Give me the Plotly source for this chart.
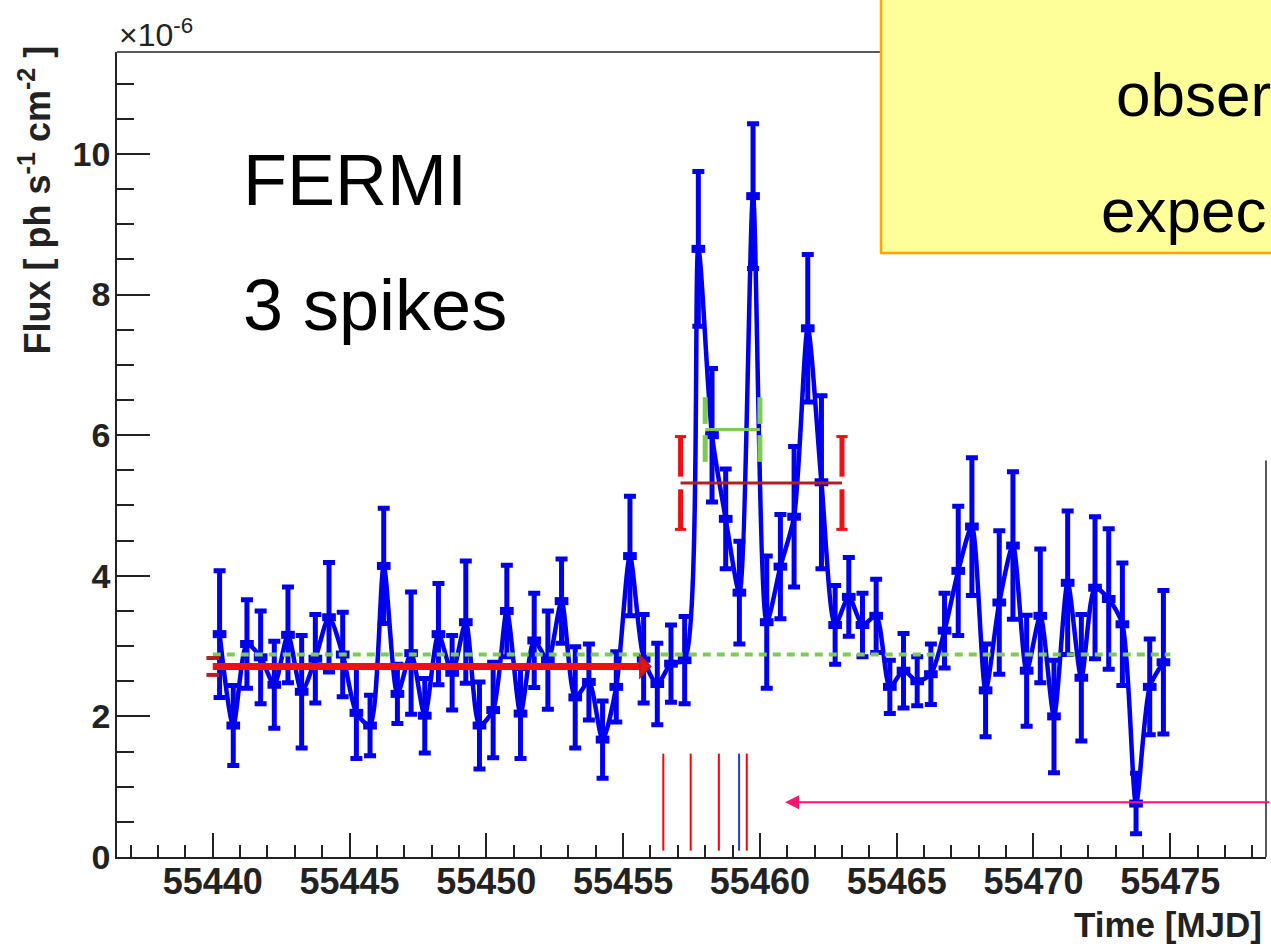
import plotly.graph_objects as go

# ---------------- canvas / layout geometry ----------------
W, H = 1271, 947
ML, MR, MT, MB = 117, 5, 52, 90
PW, PH = W - ML - MR, H - MT - MB

X_RANGE = [55436.5, 55478.5]
Y_RANGE = [0.0, 11.45]

# ---------------- data (flux in units of 1e-6 ph s^-1 cm^-2) ----------------
time_mjd = [55440.25, 55440.75, 55441.25, 55441.75, 55442.25, 55442.75, 55443.25, 55443.75,
            55444.25, 55444.75, 55445.25, 55445.75, 55446.25, 55446.75, 55447.25, 55447.75,
            55448.25, 55448.75, 55449.25, 55449.75, 55450.25, 55450.75, 55451.25, 55451.75,
            55452.25, 55452.75, 55453.25, 55453.75, 55454.25, 55454.75, 55455.25, 55455.75,
            55456.25, 55456.75, 55457.25, 55457.75, 55458.25, 55458.75, 55459.25, 55459.75,
            55460.25, 55460.75, 55461.25, 55461.75, 55462.25, 55462.75, 55463.25, 55463.75,
            55464.25, 55464.75, 55465.25, 55465.75, 55466.25, 55466.75, 55467.25, 55467.75,
            55468.25, 55468.75, 55469.25, 55469.75, 55470.25, 55470.75, 55471.25, 55471.75,
            55472.25, 55472.75, 55473.25, 55473.75, 55474.25, 55474.75]
flux = [3.17, 1.87, 3.03, 2.84, 2.45, 3.16, 2.35, 2.82, 3.41, 2.88,
        2.05, 1.87, 4.14, 2.32, 2.90, 2.01, 3.17, 2.62, 3.34, 1.87,
        2.09, 3.50, 2.04, 3.08, 2.80, 3.64, 2.27, 2.49, 1.67, 2.42,
        4.28, 2.82, 2.46, 2.75, 2.80, 8.65, 6.00, 4.81, 3.76, 9.40,
        3.34, 4.13, 4.84, 7.52, 5.33, 3.30, 3.70, 3.30, 3.43, 2.42,
        2.65, 2.50, 2.60, 3.22, 4.07, 4.70, 2.37, 3.62, 4.43, 2.65,
        3.43, 2.00, 3.90, 2.55, 3.83, 3.67, 3.31, 0.76, 2.42, 2.77]
flux_err = [0.90, 0.57, 0.63, 0.66, 0.62, 0.68, 0.80, 0.63, 0.78, 0.60,
            0.65, 0.43, 0.82, 0.42, 0.87, 0.53, 0.72, 0.53, 0.87, 0.62,
            0.68, 0.65, 0.64, 0.67, 0.70, 0.60, 0.72, 0.54, 0.55, 0.50,
            0.85, 0.63, 0.58, 0.55, 0.62, 1.10, 0.95, 0.71, 0.73, 1.03,
            0.94, 0.74, 1.00, 1.05, 1.23, 0.56, 0.56, 0.45, 0.52, 0.38,
            0.53, 0.35, 0.43, 0.53, 0.92, 0.98, 0.66, 1.02, 1.05, 0.79,
            0.95, 0.80, 1.02, 0.90, 1.01, 1.00, 0.87, 0.43, 0.68, 1.02]
BIN_HALF = 0.25

# pre-flare average (red arrow)
BASE_START, BASE_END, BASE_FLUX, BASE_ERR = 55440.0, 55456.0, 2.71, 0.12
# overall average (green dashed)
AVG_START, AVG_END, AVG_FLUX = 55440.0, 55475.0, 2.88
# flare average (red)
FLARE_START, FLARE_END, FLARE_FLUX, FLARE_ERR, FLARE_GAP = 55457.1, 55463.0, 5.32, 0.66, 0.09
# peak interval (green)
PEAK_START, PEAK_END, PEAK_FLUX, PEAK_ERR, PEAK_GAP = 55458.0, 55460.0, 6.08, 0.46, 0.08
# event markers at the bottom
red_events = [55456.47, 55457.47, 55458.50, 55459.52]
blue_events = [55459.24]
EVENT_LOW, EVENT_HIGH = 0.09, 1.47
ARROW_TIP_X, ARROW_Y = 55460.92, 0.78
FRAME_RIGHT_TOP = 5.64

BLUE = "#0000EE"
GREEN = "#7CCB55"
RED = "#EE1111"
DARKRED = "#B41E1E"
PINK = "#FF1470"
FONT = "Liberation Sans"
AXC = "#222222"


def px_x(px):
    return (px - ML) / PW


def px_y(py):
    return (H - MB - py) / PH


def vbar_with_gap(xs, center, err, gap):
    xx, yy = [], []
    for x in xs:
        xx += [x, x, None, x, x, None]
        yy += [center - err, center - gap, None, center + gap, center + err, None]
    return xx, yy


fig = go.Figure()

# main light curve
fig.add_trace(go.Scatter(
    x=time_mjd, y=flux, mode="lines",
    line=dict(color=BLUE, width=4.5, shape="spline", smoothing=0.7),
    error_x=dict(type="constant", value=BIN_HALF, thickness=8, width=0, color=BLUE),
    error_y=dict(type="data", array=flux_err, thickness=5, width=6, color=BLUE),
    hoverinfo="skip", showlegend=False))

# overall average: green dashed
fig.add_trace(go.Scatter(
    x=[AVG_START, AVG_END], y=[AVG_FLUX, AVG_FLUX], mode="lines",
    line=dict(color=GREEN, width=4, dash="8px,6px"), showlegend=False, hoverinfo="skip"))

# pre-flare average: thick red arrow
fig.add_trace(go.Scatter(
    x=[BASE_START, BASE_END - 0.25], y=[BASE_FLUX, BASE_FLUX], mode="lines",
    line=dict(color=RED, width=7), showlegend=False, hoverinfo="skip"))
fig.add_trace(go.Scatter(
    x=[BASE_START, BASE_START], y=[BASE_FLUX - BASE_ERR, BASE_FLUX + BASE_ERR], mode="markers",
    marker=dict(symbol="line-ew", size=9, line=dict(color=DARKRED, width=4)),
    showlegend=False, hoverinfo="skip"))

# flare average: red line with split end bars
fig.add_trace(go.Scatter(
    x=[FLARE_START, FLARE_END], y=[FLARE_FLUX, FLARE_FLUX], mode="lines",
    line=dict(color=DARKRED, width=3), showlegend=False, hoverinfo="skip"))
fx, fy = vbar_with_gap([FLARE_START, FLARE_END], FLARE_FLUX, FLARE_ERR, FLARE_GAP)
fig.add_trace(go.Scatter(x=fx, y=fy, mode="lines", line=dict(color=RED, width=5),
                         showlegend=False, hoverinfo="skip"))
fig.add_trace(go.Scatter(
    x=[FLARE_START, FLARE_START, FLARE_END, FLARE_END],
    y=[FLARE_FLUX - FLARE_ERR, FLARE_FLUX + FLARE_ERR] * 2, mode="markers",
    marker=dict(symbol="line-ew", size=8, line=dict(color=RED, width=3)),
    showlegend=False, hoverinfo="skip"))

# peak interval: green
fig.add_trace(go.Scatter(
    x=[PEAK_START, PEAK_END], y=[PEAK_FLUX, PEAK_FLUX], mode="lines",
    line=dict(color=GREEN, width=3), showlegend=False, hoverinfo="skip"))
gx, gy = vbar_with_gap([PEAK_START, PEAK_END], PEAK_FLUX, PEAK_ERR, PEAK_GAP)
fig.add_trace(go.Scatter(x=gx, y=gy, mode="lines", line=dict(color=GREEN, width=5),
                         showlegend=False, hoverinfo="skip"))

# event lines
for evs, col in ((red_events, "#FF0000"), (blue_events, "#1E3CDC")):
    ex, ey = [], []
    for e in evs:
        ex += [e, e, None]
        ey += [EVENT_LOW, EVENT_HIGH, None]
    fig.add_trace(go.Scatter(x=ex, y=ey, mode="lines", line=dict(color=col, width=2),
                             showlegend=False, hoverinfo="skip"))

shapes = []
# open arrow head at end of red baseline
ah_len, ah_h = 0.38, 0.15
shapes.append(dict(type="path", xref="x", yref="y",
                   path=f"M {BASE_END - ah_len},{BASE_FLUX - ah_h} L {BASE_END},{BASE_FLUX} "
                        f"L {BASE_END - ah_len},{BASE_FLUX + ah_h} Z",
                   line=dict(color=DARKRED, width=2), fillcolor=RED))
# partial frame: top and right
shapes.append(dict(type="line", xref="paper", yref="paper", x0=0, x1=px_x(885), y0=1, y1=1,
                   line=dict(color=AXC, width=1.5)))
shapes.append(dict(type="line", xref="paper", yref="y", x0=1, x1=1, y0=0, y1=FRAME_RIGHT_TOP,
                   line=dict(color=AXC, width=1.5)))
# yellow box
shapes.append(dict(type="rect", xref="paper", yref="paper",
                   x0=px_x(881), x1=px_x(1280), y0=px_y(253), y1=px_y(-5),
                   fillcolor="#FFFF99", line=dict(color="#FFA500", width=2.5), layer="above"))

annotations = [
    dict(xref="x", yref="y", x=ARROW_TIP_X, y=ARROW_Y, ax=520, ay=0, text="",
         showarrow=True, arrowhead=2, arrowsize=1.4, arrowwidth=2, arrowcolor=PINK),
    dict(xref="paper", yref="paper", x=px_x(117), y=px_y(55), xanchor="left", yanchor="bottom",
         text="×10<sup>-6</sup>", showarrow=False, font=dict(family=FONT, size=32, color=AXC)),
    dict(xref="paper", yref="paper", x=px_x(34), y=px_y(44), xanchor="center", yanchor="top",
         textangle=-90, text="<b>Flux [ ph s<sup>-1</sup> cm<sup>-2</sup> ]</b>", showarrow=False,
         font=dict(family=FONT, size=36, color=AXC)),
    dict(xref="paper", yref="paper", x=px_x(1264), y=px_y(925), xanchor="right", yanchor="middle",
         text="<b>Time [MJD]</b>", showarrow=False, font=dict(family=FONT, size=35, color=AXC)),
    dict(xref="paper", yref="paper", x=px_x(241), y=px_y(180), xanchor="left", yanchor="middle",
         text="FERMI", showarrow=False, font=dict(family=FONT, size=72, color="black")),
    dict(xref="paper", yref="paper", x=px_x(241), y=px_y(305), xanchor="left", yanchor="middle",
         text="3 spikes", showarrow=False, font=dict(family=FONT, size=72, color="black")),
    dict(xref="paper", yref="paper", x=px_x(1114), y=px_y(94), xanchor="left", yanchor="middle",
         text="obser", showarrow=False, font=dict(family=FONT, size=62, color="black")),
    dict(xref="paper", yref="paper", x=px_x(1099), y=px_y(210), xanchor="left", yanchor="middle",
         text="expec", showarrow=False, font=dict(family=FONT, size=62, color="black")),
]

fig.update_layout(
    width=W, height=H,
    margin=dict(l=ML, r=MR, t=MT, b=MB, pad=0),
    paper_bgcolor="white", plot_bgcolor="white",
    font=dict(family=FONT, color=AXC),
    shapes=shapes, annotations=annotations,
    showlegend=False,
)
fig.update_xaxes(
    range=X_RANGE, showgrid=False, zeroline=False,
    showline=True, linecolor=AXC, linewidth=1.5, mirror=False,
    tick0=55440, dtick=5, tickformat="d",
    ticks="inside", ticklen=24, tickwidth=1.5, tickcolor=AXC,
    minor=dict(dtick=1, ticks="inside", ticklen=12, tickwidth=1.5, tickcolor=AXC),
    tickfont=dict(family=FONT, size=36, weight="bold", color=AXC),
    ticklabelstandoff=-8,
)
fig.update_yaxes(
    range=Y_RANGE, showgrid=False, zeroline=False,
    showline=True, linecolor=AXC, linewidth=1.5, mirror=False,
    tick0=0, dtick=2, ticks="inside", ticklen=33, tickwidth=1.5, tickcolor=AXC,
    minor=dict(dtick=0.5, ticks="inside", ticklen=17, tickwidth=1.5, tickcolor=AXC),
    tickfont=dict(family=FONT, size=34, weight="bold", color=AXC),
    ticklabelstandoff=-2,
)

fig.write_html("out.html")
